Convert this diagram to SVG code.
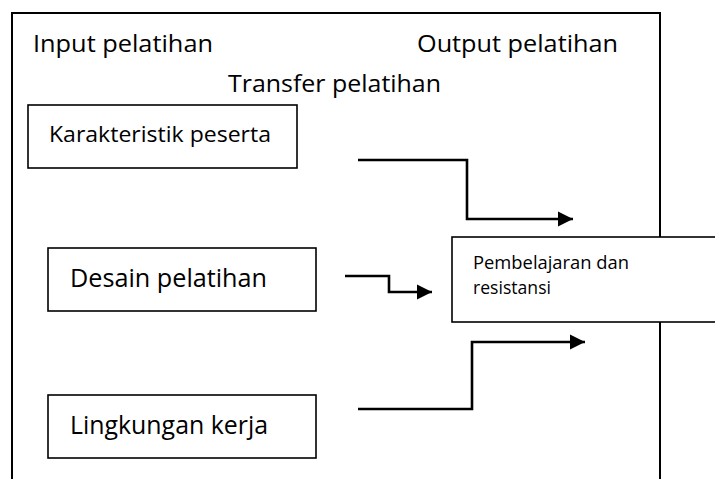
<svg xmlns="http://www.w3.org/2000/svg" width="715" height="479" viewBox="0 0 715 479">
<style>
text{font-family:"Open Sans","Noto Sans",sans-serif;fill:#000}
.box{fill:#fff;stroke:#000;stroke-width:1.6}
.frame{fill:none;stroke:#000;stroke-width:2}
.conn{fill:none;stroke:#000;stroke-width:2.6}
.big{font-size:24.5px}
</style>
<defs>
<marker id="ah" markerUnits="userSpaceOnUse" markerWidth="16" markerHeight="16" refX="15" refY="8" orient="auto">
<path d="M0,0.5 L15,8 L0,15.5 Z" fill="#000"/>
</marker>
</defs>
<rect width="715" height="479" fill="#fff"/>
<g id="frame">
<path class="frame" d="M12,480 V13 H660 V480"/>
<text class="big" x="33" y="52" textLength="180" lengthAdjust="spacingAndGlyphs">Input pelatihan</text>
<text class="big" x="417" y="52" textLength="201" lengthAdjust="spacingAndGlyphs">Output pelatihan</text>
<text class="big" x="228" y="92" textLength="213" lengthAdjust="spacingAndGlyphs">Transfer pelatihan</text>
</g>
<g id="connectors">
<path class="conn" d="M358,160 H467 V219 H573" marker-end="url(#ah)"/>
<path class="conn" d="M345,276 H389 V292 H432" marker-end="url(#ah)"/>
<path class="conn" d="M358,409 H472 V342 H585" marker-end="url(#ah)"/>
</g>
<g id="karakteristik">
<rect class="box" x="28" y="105" width="269" height="63"/>
<text x="49" y="142" font-size="22.5" textLength="222" lengthAdjust="spacingAndGlyphs">Karakteristik peserta</text>
</g>
<g id="desain">
<rect class="box" x="48" y="248" width="268" height="63"/>
<text x="70" y="287" font-size="25" textLength="197" lengthAdjust="spacingAndGlyphs">Desain pelatihan</text>
</g>
<g id="lingkungan">
<rect class="box" x="48" y="395" width="268" height="63"/>
<text x="70" y="434" font-size="25" textLength="198" lengthAdjust="spacingAndGlyphs">Lingkungan kerja</text>
</g>
<g id="pembelajaran">
<rect class="box" x="452" y="237" width="280" height="85"/>
<text x="473" y="269" font-size="17.5" textLength="156" lengthAdjust="spacingAndGlyphs">Pembelajaran dan</text>
<text x="473" y="294" font-size="17.5" textLength="78" lengthAdjust="spacingAndGlyphs">resistansi</text>
</g>
</svg>
